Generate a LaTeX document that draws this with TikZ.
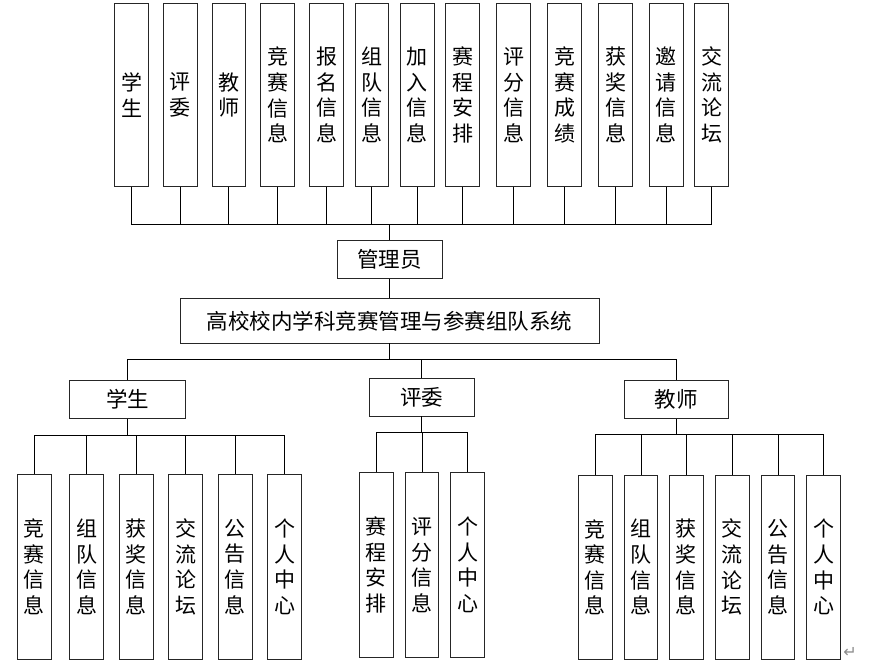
\documentclass[tikz,border=0pt]{standalone}
\usepackage{fontspec}
\newfontfamily\cjk{Noto Sans CJK SC}
\newfontfamily\dejavu{DejaVu Sans}
\begin{document}
\begin{tikzpicture}[x=1pt,y=-1pt,
  box/.style={draw=black!85, line width=0.8pt, inner sep=0pt, align=center, font=\cjk\fontsize{21}{25.6}\selectfont},
  vbox/.style={box, minimum width=33.7pt, minimum height=184pt},
  hbox/.style={box, font=\cjk\fontsize{21.5}{25}\selectfont},
  link/.style={line width=0.9pt, black}]
\useasboundingbox (0,0) rectangle (876,669);

% top row
\foreach \x/\t [count=\i] in {131.5/学\\生, 180.2/评\\委, 228.8/教\\师, 277.5/竞\\赛\\信\\息,
  326.5/报\\名\\信\\息, 371.8/组\\队\\信\\息, 417.2/加\\入\\信\\息, 462.7/赛\\程\\安\\排,
  513.7/评\\分\\信\\息, 564.7/竞\\赛\\成\\绩, 615.5/获\\奖\\信\\息, 666.3/邀\\请\\信\\息, 711.5/交\\流\\论\\坛}
  \node[vbox, minimum height=183.4pt] (t\i) at (\x,95) {\t};

\node[hbox, minimum width=105pt, minimum height=38.4pt] (admin) at (389.7,259.5) {管理员};
\node[hbox, minimum width=418.7pt, minimum height=44.3pt] (sys) at (389.7,320.8) {高校校内学科竞赛管理与参赛组队系统};

\coordinate (topbus) at (389.7,224);
\draw[link] (t1.south) -- (t1.south |- topbus) -- (t13.south |- topbus) -- (t13.south);
\foreach \i in {2,...,12} \draw[link] (t\i.south) -- (t\i.south |- topbus);
\draw[link] (topbus) -- (admin.north);
\draw[link] (admin.south) -- (sys.north);

% roles
\node[hbox, minimum width=116pt, minimum height=38.4pt] (stu) at (127.7,399.5) {学生};
\node[hbox, minimum width=105pt, minimum height=37.7pt] (rev) at (421.8,397.2) {评委};
\node[hbox, minimum width=104.3pt, minimum height=38.4pt] (tea) at (676.2,399.5) {教师};

\coordinate (rolebus) at (389.7,359.3);
\draw[link] (sys.south) -- (rolebus);
\draw[link] (stu.north) -- (stu.north |- rolebus) -- (tea.north |- rolebus) -- (tea.north);
\draw[link] (rev.north) -- (rev.north |- rolebus);

% student group
\foreach \x/\t [count=\i] in {34.3/竞\\赛\\信\\息, 86.7/组\\队\\信\\息, 136.3/获\\奖\\信\\息,
  185.7/交\\流\\论\\坛, 235.3/公\\告\\信\\息, 284.7/个\\人\\中\\心}
  \node[vbox, minimum height=185pt] (s\i) at (\x,566.8) {\t};
\coordinate (sbus) at (127.7,435.3);
\draw[link] (stu.south) -- (sbus);
\draw[link] (s1.north) -- (s1.north |- sbus) -- (s6.north |- sbus) -- (s6.north);
\foreach \i in {2,...,5} \draw[link] (s\i.north) -- (s\i.north |- sbus);

% reviewer group
\foreach \x/\t [count=\i] in {376.3/赛\\程\\安\\排, 422/评\\分\\信\\息, 467.5/个\\人\\中\\心}
  \node[vbox, minimum height=184.6pt] (r\i) at (\x,565) {\t};
\coordinate (rbus) at (421.8,432.7);
\draw[link] (rev.south) -- (rbus);
\draw[link] (r1.north) -- (r1.north |- rbus) -- (r3.north |- rbus) -- (r3.north);
\draw[link] (r2.north) -- (r2.north |- rbus);

% teacher group
\foreach \x/\t [count=\i] in {595.3/竞\\赛\\信\\息, 641/组\\队\\信\\息, 686.3/获\\奖\\信\\息,
  732.3/交\\流\\论\\坛, 778/公\\告\\信\\息, 823.7/个\\人\\中\\心}
  \node[vbox, minimum height=184.3pt] (e\i) at (\x,567.2) {\t};
\coordinate (ebus) at (676.2,434.7);
\draw[link] (tea.south) -- (ebus);
\draw[link] (e1.north) -- (e1.north |- ebus) -- (e6.north |- ebus) -- (e6.north);
\foreach \i in {2,...,5} \draw[link] (e\i.north) -- (e\i.north |- ebus);

\node[font=\dejavu\fontsize{16}{16}\selectfont, text=black!45, inner sep=0pt] (ret) at (850,652) {↵};
\end{tikzpicture}
\end{document}
